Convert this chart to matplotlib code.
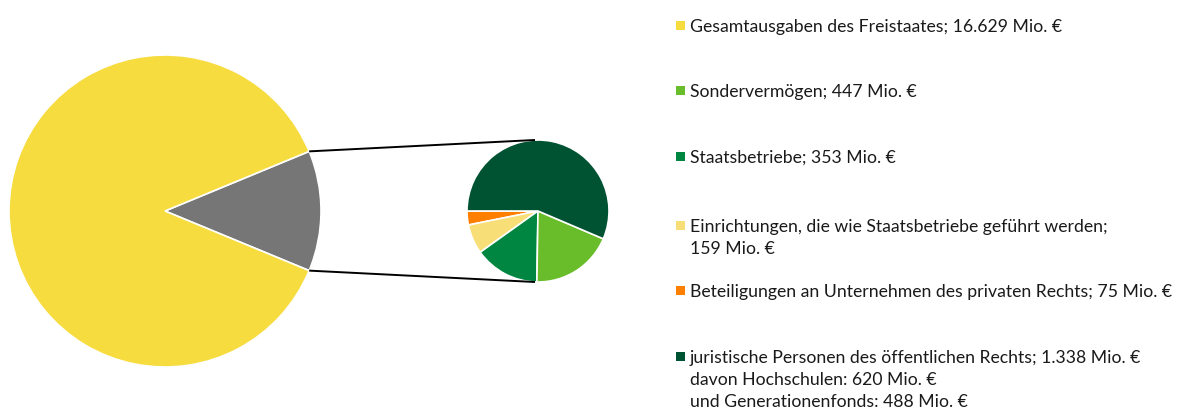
import numpy as np
import matplotlib.pyplot as plt
from matplotlib import font_manager

# data
gesamt = 16629
small_names = ["Beteiligungen", "Einrichtungen", "Staatsbetriebe", "Sondervermögen", "juristische Personen"]
small_values = [75, 159, 353, 447, 1338]
small_colors = ["#FF7F00", "#F7DE76", "#008641", "#6ABD2A", "#005332"]
big_colors = ["#767676", "#F7DC40"]

legend_labels = [
    "Gesamtausgaben des Freistaates; 16.629 Mio. €",
    "Sondervermögen; 447 Mio. €",
    "Staatsbetriebe; 353 Mio. €",
    "Einrichtungen, die wie Staatsbetriebe geführt werden;\n159 Mio. €",
    "Beteiligungen an Unternehmen des privaten Rechts; 75 Mio. €",
    "juristische Personen des öffentlichen Rechts; 1.338 Mio. €\ndavon Hochschulen: 620 Mio. €\nund Generationenfonds: 488 Mio. €",
]
legend_colors = ["#F7DC40", "#6ABD2A", "#008641", "#F7DE76", "#FF7F00", "#005332"]
legend_y = [32, 97, 163, 232, 297, 363]   # baseline of first line, px

names = {f.name for f in font_manager.fontManager.ttflist}
family = "DejaVu Sans"
for cand in ["Liberation Sans Narrow", "Lato", "Roboto"]:
    if cand in names:
        family = cand
        break

W, H = 1179, 412
fig = plt.figure(figsize=(W / 100, H / 100), dpi=100, facecolor="white")
ax = fig.add_axes([0, 0, 1, 1])

rest = sum(small_values)
half = 360 * rest / (rest + gesamt) / 2
bc, br = (165, 211), 156
sc, sr = (538, 211), 71

ax.pie([rest, gesamt], colors=big_colors, startangle=-half, center=bc, radius=br,
       wedgeprops=dict(edgecolor="white", linewidth=1.2))
ax.pie(small_values, colors=small_colors, startangle=180, center=sc, radius=sr,
       counterclock=False, wedgeprops=dict(edgecolor="white", linewidth=1.2))
ax.set_xlim(0, W)
ax.set_ylim(H, 0)
ax.set_aspect("equal")
ax.axis("off")

# connector lines (y axis inverted)
for s in (1, -1):
    a = np.deg2rad(s * half)
    x0 = bc[0] + br * np.cos(a)
    y0 = bc[1] + br * np.sin(a)
    ax.plot([x0, sc[0] - 3], [y0, sc[1] + s * sr], color="black", lw=1.4,
            solid_capstyle="butt")

# fit legend font so the first line is about 372 px wide
renderer = fig.canvas.get_renderer()
probe = ax.text(0, 0, legend_labels[0], fontsize=14, family=family)
w = probe.get_window_extent(renderer).width
probe.remove()
fs = 14 * 372 / w

for lab, col, y in zip(legend_labels, legend_colors, legend_y):
    ax.add_patch(plt.Rectangle((676, y - 11), 9, 9, color=col, lw=0))
    for i, line in enumerate(lab.split("\n")):
        ax.text(690, y + i * 22, line, fontsize=fs, family=family,
                va="baseline", ha="left", color="#1a1a1a")

fig.savefig("out.png", dpi=100, facecolor="white")
